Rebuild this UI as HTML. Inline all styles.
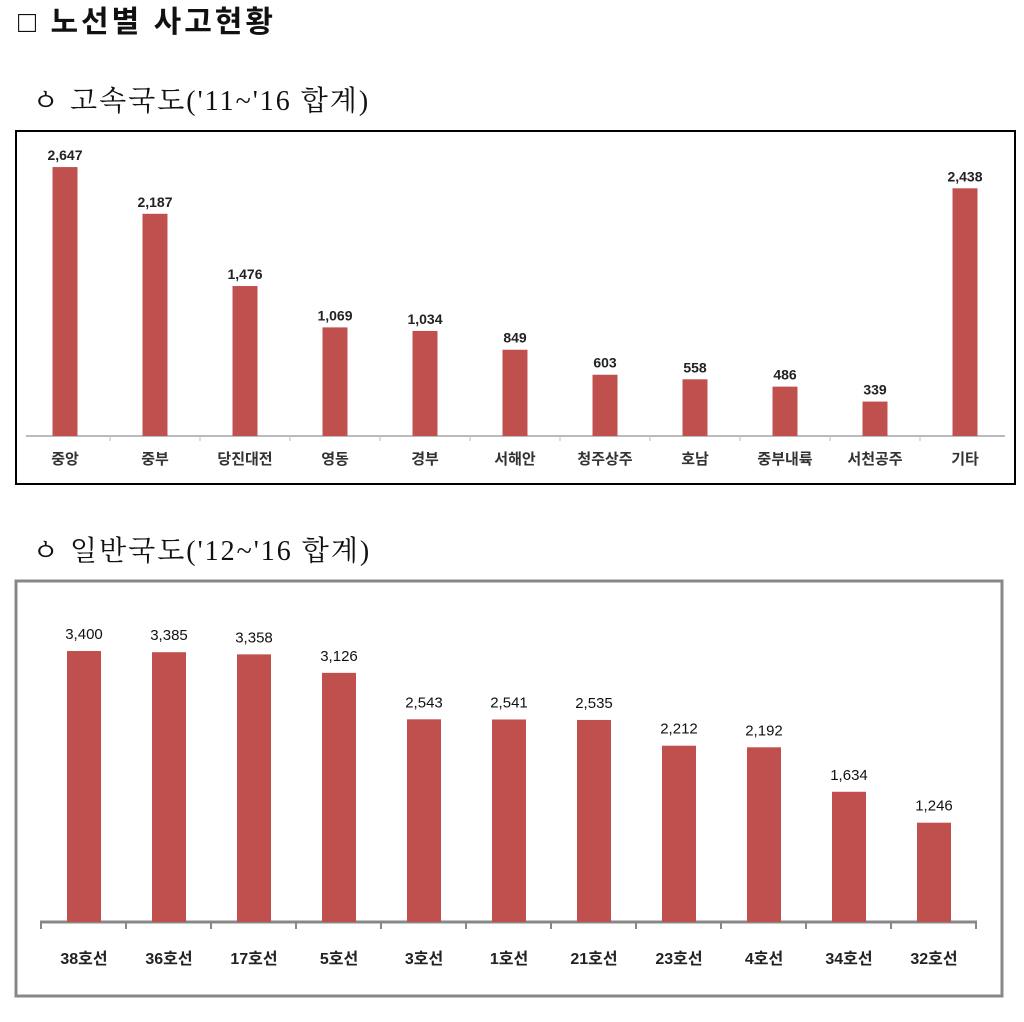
<!DOCTYPE html>
<html><head><meta charset="utf-8"><style>
body{margin:0;background:#fff;width:1024px;height:1017px;overflow:hidden;font-family:"Liberation Sans","Noto Sans CJK KR",sans-serif}
</style></head><body>
<svg width="1024" height="1017" xmlns="http://www.w3.org/2000/svg" font-family="Liberation Sans, Noto Sans CJK KR, sans-serif">
<text x="18" y="32" font-size="30" font-weight="bold" fill="#111" letter-spacing="3">□ 노선별 사고현황</text>
<text x="32" y="110" font-size="28" fill="#111" letter-spacing="2" font-family="Liberation Serif, Noto Serif CJK SC, serif">ㆁ  고속국도('11~'16 합계)</text>
<text x="32" y="560" font-size="28" fill="#111" letter-spacing="2" font-family="Liberation Serif, Noto Serif CJK SC, serif">ㆁ  일반국도('12~'16 합계)</text>
<rect x="16" y="131" width="999" height="353" fill="none" stroke="#000" stroke-width="2"/>
<line x1="26" y1="436" x2="1005" y2="436" stroke="#bbb" stroke-width="2"/>
<g id="c1"></g>
<rect x="16" y="581" width="986" height="415" fill="none" stroke="#888" stroke-width="3"/>
<line x1="40" y1="922" x2="977" y2="922" stroke="#888" stroke-width="3"/>
<g id="c2"></g>
<script>
var ns="http://www.w3.org/2000/svg";
function el(p,t,a,txt){var e=document.createElementNS(ns,t);for(var k in a)e.setAttribute(k,a[k]);if(txt)e.textContent=txt;p.appendChild(e);}
var g1=document.getElementById("c1");
var d1=[["중앙",2647,"2,647"],["중부",2187,"2,187"],["당진대전",1476,"1,476"],["영동",1069,"1,069"],["경부",1034,"1,034"],["서해안",849,"849"],["청주상주",603,"603"],["호남",558,"558"],["중부내륙",486,"486"],["서천공주",339,"339"],["기타",2438,"2,438"]];
d1.forEach(function(d,i){var cx=65+i*90,h=d[1]*0.1016;
el(g1,"rect",{x:cx-12.5,y:436-h,width:25,height:h,fill:"#c0504d"});
el(g1,"text",{x:cx,y:436-h-7,"font-size":14,"font-weight":"bold","text-anchor":"middle",fill:"#222"},d[2]);
el(g1,"text",{x:cx,y:464,"font-size":15,"font-weight":"bold","text-anchor":"middle",fill:"#333"},d[0]);
if(i>0)el(g1,"line",{x1:cx-45,y1:436,x2:cx-45,y2:441,stroke:"#bbb"});});
var g2=document.getElementById("c2");
var d2=[["38호선",3400,"3,400"],["36호선",3385,"3,385"],["17호선",3358,"3,358"],["5호선",3126,"3,126"],["3호선",2543,"2,543"],["1호선",2541,"2,541"],["21호선",2535,"2,535"],["23호선",2212,"2,212"],["4호선",2192,"2,192"],["34호선",1634,"1,634"],["32호선",1246,"1,246"]];
d2.forEach(function(d,i){var cx=84+i*85,h=d[1]*0.0797;
el(g2,"rect",{x:cx-17,y:922-h,width:34,height:h,fill:"#c0504d"});
el(g2,"text",{x:cx,y:922-h-12,"font-size":15,"text-anchor":"middle",fill:"#111"},d[2]);
el(g2,"text",{x:cx,y:964,"font-size":16,"font-weight":"bold","text-anchor":"middle",fill:"#222"},d[0]);
el(g2,"line",{x1:cx-43,y1:922,x2:cx-43,y2:929,stroke:"#888","stroke-width":2});});
el(g2,"line",{x1:976,y1:922,x2:976,y2:929,stroke:"#888","stroke-width":2});
</script>
</svg>
</body></html>
